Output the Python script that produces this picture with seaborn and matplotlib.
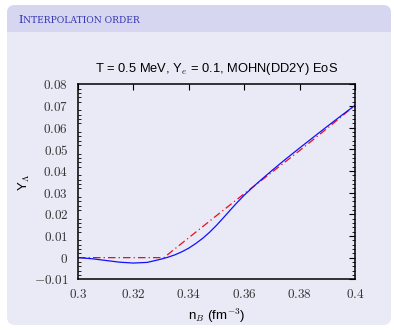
import numpy as np
import pandas as pd
import matplotlib
matplotlib.use("Agg")
import matplotlib.pyplot as plt
import seaborn as sns
from matplotlib.patches import FancyBboxPatch, Rectangle
from matplotlib.transforms import IdentityTransform
from matplotlib.ticker import MultipleLocator, FixedLocator, FixedFormatter

# ---- data ----
n_B_blue = [0.300, 0.305, 0.310, 0.315, 0.320, 0.325, 0.330, 0.3325, 0.335,
            0.3375, 0.340, 0.3425, 0.345, 0.3475, 0.350, 0.3525, 0.355,
            0.3575, 0.360, 0.3625, 0.365, 0.370, 0.375, 0.380, 0.385, 0.390,
            0.395, 0.400]
Y_blue = [0.0000, -0.0005, -0.0013, -0.0021, -0.0025, -0.0022, -0.0007,
          0.0002, 0.0013, 0.0027, 0.0044, 0.0065, 0.0089, 0.0117, 0.0149,
          0.0184, 0.0220, 0.0255, 0.0288, 0.0318, 0.0347, 0.0402, 0.0455,
          0.0506, 0.0556, 0.0606, 0.0655, 0.0703]
n_B_red = [0.300, 0.331, 0.340, 0.350, 0.360, 0.370, 0.380, 0.390, 0.400]
Y_red = [0.0000, 0.0000, 0.0092, 0.0194, 0.0295, 0.0394, 0.0494, 0.0597, 0.0703]

x_ticks = [0.30, 0.32, 0.34, 0.36, 0.38, 0.40]
x_ticklabels = ["0.3", "0.32", "0.34", "0.36", "0.38", "0.4"]
y_ticks = [-0.01, 0.0, 0.01, 0.02, 0.03, 0.04, 0.05, 0.06, 0.07, 0.08]
y_ticklabels = ["-0.01", "0", "0.01", "0.02", "0.03", "0.04", "0.05",
                "0.06", "0.07", "0.08"]

header_first = "I"
header_rest = "NTERPOLATION ORDER"
title = "T = 0.5 MeV, Y$_e$ = 0.1, MOHN(DD2Y) EoS"
xlabel = "n$_B$ (fm$^{-3}$)"
ylabel = "Y$_\\Lambda$"

# ---- style ----
sns.set_theme(style="white")
plt.rcParams["font.family"] = ["Liberation Sans", "DejaVu Sans"]
plt.rcParams["mathtext.fontset"] = "cm"

W, H = 394, 330
fig = plt.figure(figsize=(W / 100, H / 100), dpi=100, facecolor="white")

title_col = "#d6d6f0"
body_col = "#eaeaf6"
struct_col = "#3333b3"
r = 8
bx0, by_top, bx1, by_bot = 7, 5, 391, 325
bar_bottom = 32

idt = IdentityTransform()
body = FancyBboxPatch((bx0, H - by_bot), bx1 - bx0, by_bot - by_top,
                      boxstyle=f"round,pad=0,rounding_size={r}",
                      facecolor=body_col, edgecolor="none",
                      transform=idt, zorder=-5)
fig.patches.append(body)
bar = FancyBboxPatch((bx0, H - bar_bottom - r), bx1 - bx0, bar_bottom - by_top + r,
                     boxstyle=f"round,pad=0,rounding_size={r}",
                     facecolor=title_col, edgecolor="none",
                     transform=idt, zorder=-4)
fig.patches.append(bar)
cover = Rectangle((bx0, H - bar_bottom - r - 1), bx1 - bx0, r + 1,
                  facecolor=body_col, edgecolor="none",
                  transform=idt, zorder=-3)
fig.patches.append(cover)

# header in small caps
t1 = fig.text(18 / W, 1 - 22.7 / H, header_first, fontsize=8.2,
              family="DejaVu Serif", color=struct_col, va="baseline", ha="left")
fig.canvas.draw()
ext = t1.get_window_extent()
fig.text(ext.x1 / W + 0.002, 1 - 22.7 / H, header_rest, fontsize=6.6,
         family="DejaVu Serif", color=struct_col, va="baseline", ha="left")

# axes
ax_l, ax_r, ax_t, ax_b = 78, 355, 84.3, 279.3
ax = fig.add_axes([ax_l / W, 1 - ax_b / H, (ax_r - ax_l) / W, (ax_b - ax_t) / H])
ax.set_facecolor("none")

sns.lineplot(x=n_B_red, y=Y_red, ax=ax, color="#e8101a", lw=0.9,
             linestyle=(0, (6, 2.5, 1, 2.5)), estimator=None, sort=False)
sns.lineplot(x=n_B_blue, y=Y_blue, ax=ax, color="#1010ff", lw=0.9,
             estimator=None, sort=False)

ax.set_xlim(0.3, 0.4)
ax.set_ylim(-0.01, 0.08)

ax.xaxis.set_major_locator(FixedLocator(x_ticks))
ax.xaxis.set_major_formatter(FixedFormatter(["$" + s + "$" for s in x_ticklabels]))
ax.yaxis.set_major_locator(FixedLocator(y_ticks))
ax.yaxis.set_major_formatter(FixedFormatter(["$" + s + "$" for s in y_ticklabels]))
ax.yaxis.set_minor_locator(MultipleLocator(0.002))

for s in ax.spines.values():
    s.set_visible(True)
    s.set_color("black")
    s.set_linewidth(1.1)

ax.tick_params(axis="both", which="major", direction="in", length=4, width=0.8,
               color="black", top=True, right=True, labelsize=9.5,
               labelcolor="#333333")
ax.tick_params(axis="x", which="major", pad=6)
ax.tick_params(axis="y", which="major", pad=7)
ax.tick_params(axis="y", which="minor", direction="in", length=2, width=0.6,
               color="black", left=True, right=True)

ax.set_title(title, fontsize=9.3, pad=9, color="black")
ax.set_xlabel(xlabel, fontsize=9.5, labelpad=4, color="black")
ax.set_ylabel(ylabel, fontsize=9.5, labelpad=1.5, color="black")

fig.savefig("out.png", dpi=100, facecolor="white")
